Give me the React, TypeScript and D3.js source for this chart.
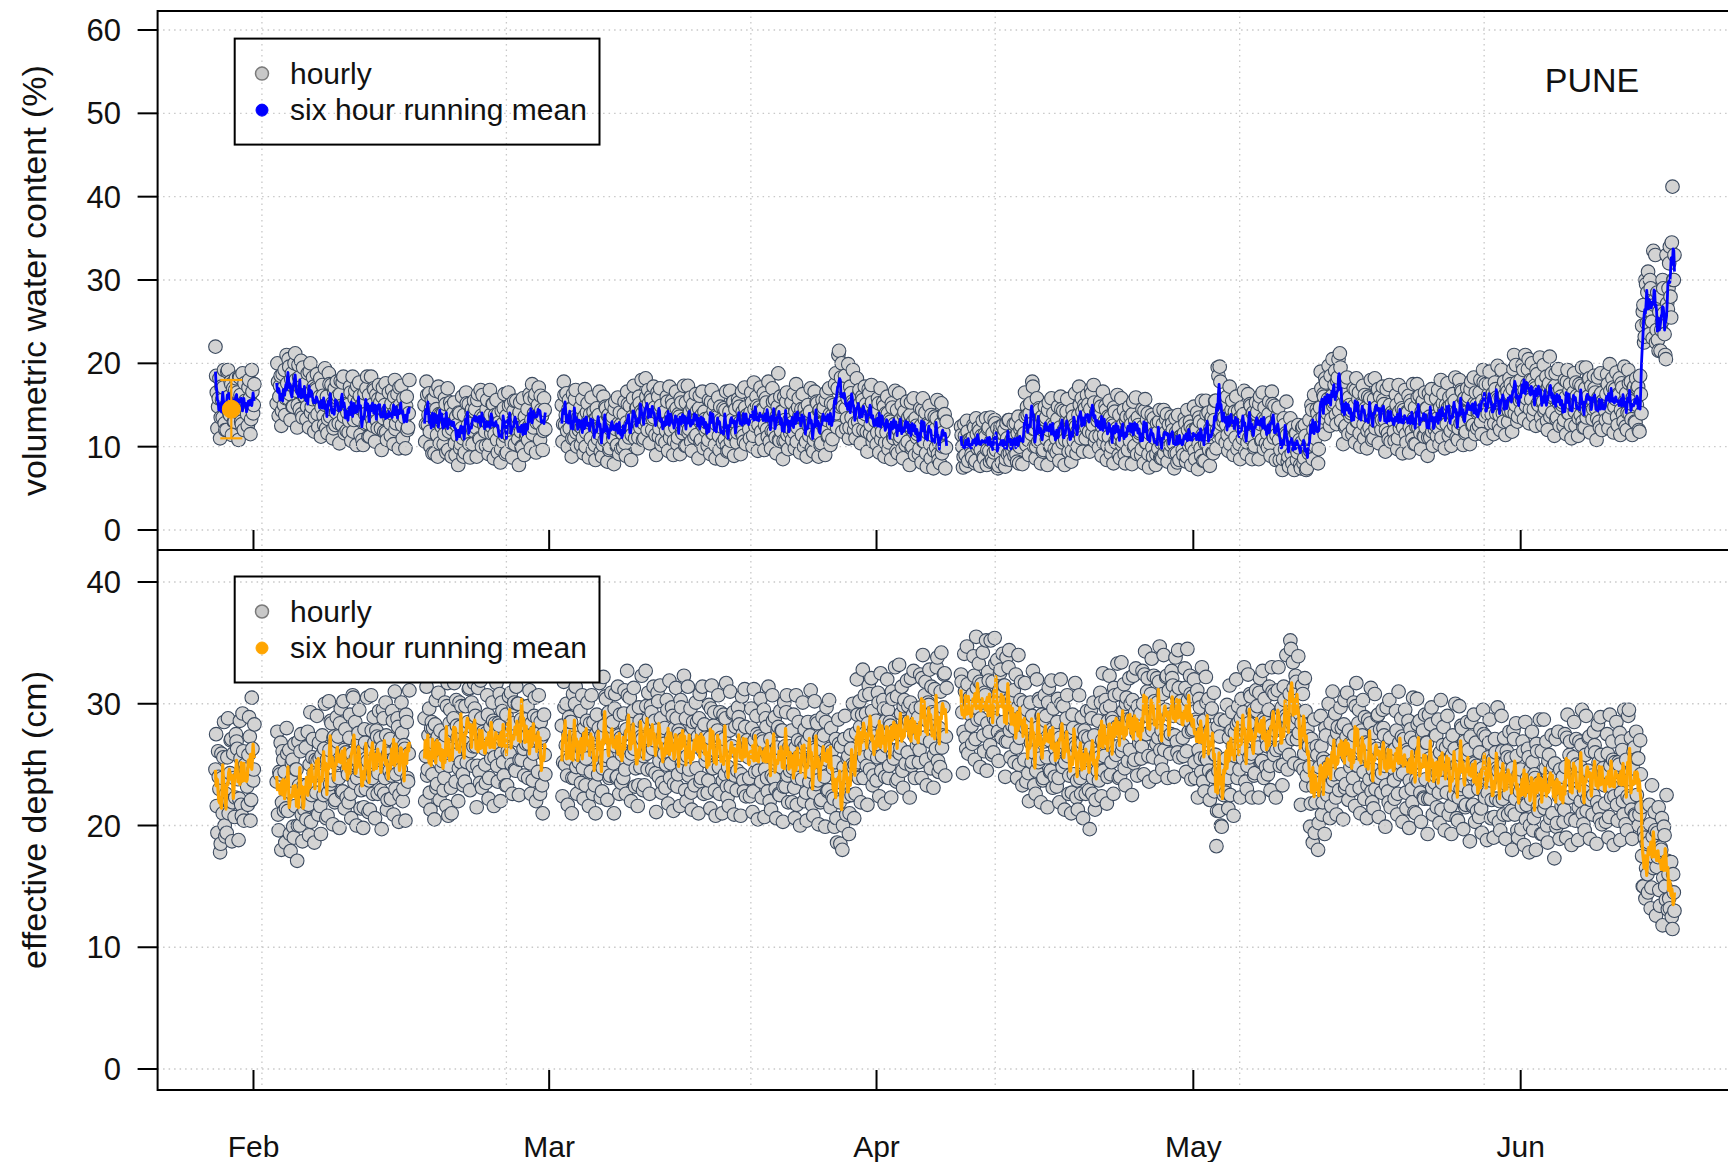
import React from "react";
import * as d3 from "d3";

// ---------- axis / label data ----------
const MONTH_LABELS = ["Feb", "Mar", "Apr", "May", "Jun"];
const MONTH_TICKS = [
  Date.UTC(2017, 1, 1),
  Date.UTC(2017, 2, 1),
  Date.UTC(2017, 3, 1),
  Date.UTC(2017, 4, 1),
  Date.UTC(2017, 5, 1),
];
const VWC_TICKS = [0, 10, 20, 30, 40, 50, 60];
const ED_TICKS = [0, 10, 20, 30, 40];
// vertical dotted grid (every 2,000,000 s), days after 1 Feb
const GRID_DAYS = [0.8, 23.95, 47.1, 70.24, 93.39, 116.54];

// ---------- series data ----------
// start of each continuous record segment, days after 1 Feb
const SEG_START_DAYS = [-3.6, 2.2, 16.2, 29.2, 67.0];
// each segment is read as two interleaved samplings: set 1 every 3 h from the start,
// set 2 every 3 h starting 1.5 h later
const STEP_HOURS = 3;
const SET2_OFFSET_HOURS = 1.5;

// volumetric water content (%), values in tenths — set 1
const vwcA = `220 165 148 182 135 156 171 128 149 190 160 138 175 152 130 168 157 141 184 162 127 150 176 145 139 171 158 133 166 150`;
const vwcB = `152 178 160 185 143 170
192 158 176 205 163 181 148 172 212 167 150 183 171 139 195 160
176 148 163 190 141 157 172 135 168 139 155 182 147 161 126 150
160 133 175 145 152 122 170 141 158 128 163 149 177 136 150 119
150 131 165 140 118 158 145 173 133 161 145 108 154 139 170 128
162 137 150 125 168 143 131 157 146 122 160 134 150 117 142 165
128 152 139 160 121 147 136 171 143 126 158 135 149 120 140`;
const vwcC = `150 127 162 138 118 146
92 158 131 145 88 139 165 124 140 115 151 132 96 127 148 121
129 104 136 113 141 98 122 110 138 117 152 126 103 133 145 119
142 123 156 131 109 137 162 128 118 145 129 102 138 124 151 115
133 108 140 119 97 127 146 113 137 116 149 124 105 131 155 121
128 109 141 118 99 125 136 112 145 124 158 132 115 140 163 129
150 128 161 137 119 144`;
const vwcD = `150 127 162 138 119 145
122 145 110 135 157 117 132 120 147 123 111 136 100 141 131 129
110 130 142 102 134 121 138 115 123 102 129 148 110 137 96 121
133 110 145 121 102 128 141 98 116 139 104 129 151 111 126 114
158 134 122 147 111 152 142 140 128 148 160 120 152 139 156 133
135 114 141 160 122 149 108 133 142 119 154 130 111 137 150 107
123 146 111 136 158 118 133 121 153 129 117 142 106 147 137 135
114 134 146 106 138 125 142 119 129 108 135 154 116 143 102 127
136 113 148 124 105 131 144 101 119 142 107 132 154 114 129 117
153 129 117 142 106 147 137 135 121 141 153 113 145 132 149 126
139 118 145 164 126 153 112 137 142 119 154 130 111 137 188 107
119 142 107 132 154 114 129 117 153 129 117 142 106 147 137 135
114 134 146 106 138 125 142 119 129 108 135 154 116 143 102 127
144 121 156 132 113 139 152 109 150 175 140 170 215 152 200 148
170 146 134 199 123 164 154 152 128 148 160 120 152 139 156 133
139 118 145 164 126 153 112 137 140 117 152 128 109 135 148 105
117 140 105 130 152 112 127 115 144 120 108 133 97 138 128 126
106 126 138 98 130 117 134 111 119 98 125 144 106 133 92 117
126 103 138 114 95 121 134 91 104 127 92 117 139 99`;
const vwcE = `124 100 88 113 77 118 108 106 91 111 123 83 115 102 119 96
109 88 115 134 96 123 82 107 116 93 128 104 74 111 124 81
97 120 85 110 132 92 107 95 127 103 91 116 80 121 111 109
116 136 148 108 140 127 178 121 121 100 127 146 108 135 94 119
132 109 144 120 101 127 140 97 110 133 98 123 145 105 120 108
142 118 106 131 95 136 126 124 118 138 150 110 142 129 146 123
139 118 145 164 126 153 112 137 136 113 148 124 105 131 144 101
112 135 100 125 147 107 122 110 138 114 102 127 91 132 122 120
107 127 139 99 131 118 135 112 118 97 124 143 105 132 91 116
122 99 134 110 91 117 130 87 104 127 92 117 139 99 114 102
128 104 92 117 81 122 112 110 96 116 128 88 120 107 124 101
116 95 122 141 103 130 89 114 127 104 139 115 96 122 135 92
132 155 120 185 196 127 142 130 150 126 114 139 103 144 134 132
111 131 143 103 135 122 139 116 126 105 132 151 113 140 99 124
139 116 151 127 108 134 147 104 116 139 104 129 151 111 126 114
132 108 96 121 85 126 116 114 88 108 120 80 112 99 116 93
99 78 105 124 86 113 74 97 132 109 144 120 101 127 140 97
147 170 135 160 182 142 157 145 185 161 149 174 138 179 205 212
131 151 163 123 155 142 159 136 143 122 149 168 130 157 116 141
150 127 162 138 119 145 158 115 134 157 122 147 169 129 144 132
156 132 120 145 109 150 140 138 118 138 150 110 142 129 146 123
136 115 142 161 123 150 109 134 147 124 159 135 116 142 155 112
123 146 111 136 158 118 133 121 158 134 122 147 111 152 142 140
127 147 159 119 151 138 155 132 143 122 149 168 130 157 116 141
157 134 169 145 126 152 165 122 142 165 130 155 177 137 152 140
175 151 139 164 128 169 159 157 138 158 170 130 162 149 166 143
163 142 169 210 150 177 136 161 180 157 192 168 149 175 205 145
157 180 145 170 192 152 167 155 178 154 142 167 131 172 208 160
141 161 173 133 165 152 169 146 153 132 159 178 140 167 126 151
165 142 177 153 134 160 173 130 147 170 135 160 182 142 157 145
170 146 134 159 123 164 154 152 143 163 175 135 167 154 171 148
157 136 163 182 144 171 130 155 164 141 176 152 133 159 172 129
150 172 118 163 245 270 232 295 285 248 300 262 230 275 330 240
228 262 215 250 290 235 205 272 290 340 255 412 300`;

// volumetric water content (%), values in tenths — set 2
const vwcA2 = `185 122 158 110 172 135 192 120 120 192 140 178 114 170 130 182 165 108 183 130 188 120 155 145 125 180 115 192 140 175`;
const vwcB2 = `200 137 173 125 187 150
138 210 158 196 132 188 148 200 180 123 198 145 203 135 170 160
133 188 123 200 148 183 118 170 187 124 160 112 174 137 194 122
116 188 136 174 110 166 126 178 161 104 179 126 184 116 151 141
117 172 107 184 132 167 102 154 177 114 150 102 164 127 184 112
112 184 132 170 106 162 122 174 153 96 171 118 176 108 143 133
113 168 103 180 128 163 98 150 173 110 146 98 160 123 180`;
const vwcC2 = `106 178 126 164 100 156
149 92 167 114 172 104 139 129 103 158 93 170 118 153 88 140
153 90 126 78 140 103 160 88 93 165 113 151 87 143 103 155
145 88 163 110 168 100 135 125 101 156 91 168 116 151 86 138
156 93 129 81 143 106 163 91 93 165 113 151 87 143 103 155
135 78 153 100 158 90 125 115 108 163 98 175 123 158 93 145
171 108 144 96 158 121`;
const vwcD2 = `106 178 126 164 100 156
145 88 163 110 168 100 135 125 102 157 92 169 117 152 87 139
159 96 132 84 146 109 166 94 88 160 108 146 82 138 98 150
136 79 154 101 159 91 126 116 99 154 89 166 114 149 84 136
173 110 146 98 160 123 180 108 110 182 130 168 104 160 120 172
147 90 165 112 170 102 137 127 105 160 95 172 120 155 90 142
166 103 139 91 153 116 173 101 101 173 121 159 95 151 111 163
143 86 161 108 166 98 133 123 101 156 91 168 116 151 86 138
159 96 132 84 146 109 166 94 95 167 115 153 89 145 105 157
148 91 166 113 171 103 138 128 110 165 100 177 125 160 95 147
171 108 144 96 158 121 178 106 98 170 118 156 92 148 108 160
142 85 160 107 165 97 132 122 108 163 98 175 123 158 93 145
163 100 136 88 150 113 170 98 94 166 114 152 88 144 104 156
147 90 165 112 170 102 137 127 133 188 123 210 148 183 118 170
185 122 158 110 172 135 192 120 110 182 130 168 104 160 120 172
151 94 169 116 174 106 141 131 103 158 93 170 118 153 88 140
160 97 133 85 147 110 167 95 92 164 112 150 86 142 102 154
135 78 153 100 158 90 125 115 91 146 81 158 106 141 76 128
149 86 122 74 136 99 156 84 80 152 100 138 74 130`;
const vwcE2 = `114 75 127 90 131 83 108 100 87 126 80 134 98 123 77 113
131 86 112 78 121 95 135 85 82 132 96 122 77 117 89 125
115 76 128 91 132 84 109 101 89 128 82 136 100 125 79 115
165 102 138 90 152 115 172 100 86 158 106 144 80 136 96 148
135 78 153 100 158 90 125 115 93 148 83 160 108 143 78 130
157 94 130 82 144 107 164 92 100 172 120 158 94 150 110 162
151 94 169 116 174 106 141 131 99 154 89 166 114 149 84 136
155 92 128 80 142 105 162 90 86 158 106 144 80 136 96 148
136 79 154 101 159 91 126 116 90 145 80 157 105 140 75 127
138 88 116 78 128 98 144 86 86 144 102 133 82 126 94 136
120 74 134 92 138 84 112 104 90 134 82 144 102 130 78 120
148 85 121 73 135 98 155 83 83 155 103 141 77 133 93 145
155 98 195 120 178 110 145 135 105 160 95 172 120 155 90 142
160 97 133 85 147 110 167 95 91 163 111 149 85 141 101 153
142 85 160 107 165 97 132 122 99 154 89 166 114 149 84 136
147 84 120 72 134 97 154 82 76 134 92 123 72 116 84 126
108 74 122 80 126 72 100 92 95 150 85 162 110 145 80 132
190 127 163 115 177 140 197 125 133 205 153 191 127 183 143 195
160 103 178 125 183 115 150 140 115 170 105 182 130 165 100 152
173 110 146 98 160 123 180 108 110 182 130 168 104 160 120 172
151 94 169 116 174 106 141 131 107 162 97 174 122 157 92 144
168 105 141 93 155 118 175 103 103 175 123 161 97 153 113 165
146 89 164 111 169 101 136 126 113 168 103 180 128 163 98 150
176 113 149 101 163 126 183 111 108 180 128 166 102 158 118 170
160 103 178 125 183 115 150 140 125 180 115 192 140 175 110 162
190 127 163 115 177 140 197 125 120 192 140 178 114 170 130 182
175 118 193 140 198 130 165 155 143 198 133 210 158 193 128 180
200 137 173 125 187 150 207 135 126 198 146 184 120 176 136 188
170 113 188 135 193 125 160 150 125 180 115 192 140 175 110 162
188 125 161 113 175 138 195 123 123 195 143 181 117 173 133 185
165 108 183 130 188 120 155 145 132 187 122 199 147 182 117 169
189 126 162 114 176 139 196 124 120 192 140 178 114 170 130 182
170 120 185 140 262 225 300 248 310 235 290 250 335 270 225 285
215 280 240 300 260 210 330 265 320 280 345 300 330`;

// effective depth (cm), values in tenths — set 1
const edA = `246 216 261 230 185 239 256 200 226 256 210 243 271 219 239 223 269 238 222 255 208 261 248 246 232 258 273 221 263 246`;
const edB = `236 209 244 268 219 254
244 214 259 228 193 237 254 190 216 246 200 233 261 209 229 213
264 233 217 250 203 256 243 241 227 253 268 216 258 241 263 233
254 227 262 286 237 272 219 251 269 239 284 253 228 262 279 223
242 272 226 259 305 235 255 239 276 245 229 262 215 268 255 253
237 263 278 226 268 251 273 243 256 229 264 288 239 274 221 253
271 241 286 255 230 264 281 225 246 276 230 263 291 239 259`;
const edC = `288 257 241 274 227 280
242 268 283 231 273 256 278 248 266 239 274 298 208 284 231 263
288 258 303 272 247 281 298 242 268 298 252 285 313 261 281 265
296 265 249 282 235 288 275 273 250 276 291 239 281 264 286 256
276 249 284 308 259 294 241 273 291 261 306 275 250 284 301 245
270 300 254 287 325 263 283 267 298 267 251 284 237 290 277 275
244 270 285 233 275 258`;
const edD = `282 252 297 266 241 275
255 285 239 272 300 248 268 252 294 263 247 280 233 286 273 271
244 270 285 233 275 258 280 250 274 247 282 306 257 292 239 271
281 251 296 265 240 274 291 235 262 292 246 279 307 255 275 259
294 263 247 280 233 286 273 271 257 283 298 246 288 271 293 263
270 243 278 302 253 288 235 267 280 250 295 264 239 273 290 234
258 288 242 275 303 251 271 255 288 257 241 274 227 280 267 265
247 273 288 236 278 261 283 253 264 237 272 296 247 282 229 261
278 248 293 262 237 271 288 232 248 278 232 265 293 241 261 245
289 258 242 275 228 281 268 266 239 265 280 228 270 253 275 245
263 236 271 295 246 281 228 260 271 241 286 255 230 264 281 225
248 278 232 265 293 241 261 245 278 247 231 264 217 270 257 255
238 264 279 227 269 252 274 244 254 227 262 286 237 272 219 251
270 240 285 254 229 263 280 224 222 252 206 239 267 185 235 200
271 240 224 257 210 263 250 248 250 276 291 239 281 264 328 256
276 249 284 308 259 294 241 273 286 256 301 270 245 279 296 240
265 295 249 282 310 258 278 262 306 275 259 292 245 298 285 283
260 286 301 249 291 274 296 266 289 262 297 321 272 307 254 286
299 269 314 283 258 292 330 253 280 310 264 297 325 273`;
const edE = `324 293 277 310 263 316 303 301 282 308 323 271 313 296 318 288
301 274 309 352 284 319 266 298 318 288 333 302 277 311 328 272
285 315 269 302 330 278 298 282 311 280 264 297 250 303 290 288
254 280 295 243 285 268 290 260 272 245 280 304 255 290 237 269
286 256 301 270 245 279 296 240 255 285 239 272 300 248 268 252
288 257 241 274 227 280 267 265 237 263 278 226 268 251 273 243
256 229 264 288 239 274 221 253 286 256 301 270 245 279 296 240
268 298 252 285 313 261 281 265 308 277 261 294 247 300 287 285
262 288 303 251 293 276 298 268 292 265 300 324 275 310 257 289
308 278 323 292 267 301 318 262 278 308 262 295 323 271 291 275
321 290 274 307 260 313 300 298 272 298 313 261 303 286 308 278
279 252 287 311 262 297 244 276 286 256 301 270 245 279 296 240
228 258 212 245 273 200 241 225 286 255 239 272 225 278 265 263
257 283 298 246 288 271 293 263 276 249 284 308 259 294 241 273
294 264 309 278 253 287 304 248 265 295 249 282 310 258 278 262
311 280 264 297 250 303 290 288 282 308 345 271 313 296 318 288
276 249 284 308 259 294 241 273 248 218 263 232 194 241 258 202
235 265 219 252 280 228 248 232 284 253 237 270 223 276 263 261
242 268 283 231 273 256 278 248 266 239 274 298 249 284 231 263
274 244 289 258 233 267 284 228 246 276 230 263 291 239 259 243
280 249 233 266 219 272 259 257 237 263 278 226 268 251 273 243
254 227 262 286 237 272 219 251 268 238 283 252 227 261 278 222
238 268 222 255 283 231 251 235 274 243 227 260 213 266 253 251
227 253 268 216 258 241 263 233 250 223 258 282 233 268 215 247
258 228 273 242 217 251 268 212 230 260 214 247 275 223 243 227
268 237 221 254 207 260 247 245 220 246 261 209 251 234 256 226
239 212 247 271 222 257 190 236 246 216 261 230 205 239 256 200
222 252 206 239 267 215 235 219 261 230 214 247 200 253 240 238
210 236 251 199 241 224 246 216 240 213 248 272 223 258 205 237
256 226 271 240 215 249 266 210 228 258 212 245 273 221 241 225
266 235 219 252 205 258 245 243 218 244 259 207 249 232 254 224
244 217 252 276 227 262 209 241 254 224 295 238 213 247 264 208
225 255 209 242 175 150 190 165 160 186 201 149 191 174 196 166
174 147 182 206 157 192 139 171 160 132 170 115 145`;

// effective depth (cm), values in tenths — set 2
const edA2 = `275 194 240 178 259 210 285 191 194 288 220 270 187 259 207 275 263 188 286 217 292 204 250 236 217 289 204 305 237 283`;
const edB2 = `277 196 242 180 261 212
186 280 212 262 179 251 199 267 246 171 269 200 275 187 233 219
205 277 192 293 225 271 186 254 290 209 255 193 274 225 300 206
208 302 234 284 201 273 221 289 273 198 296 227 302 214 260 246
219 291 206 307 239 285 200 268 295 214 260 198 279 230 305 211
213 307 239 289 206 278 226 294 272 197 295 226 301 213 259 245
222 294 209 310 242 288 203 271 301 220 266 204 285 236 311`;
const edC2 = `220 314 246 296 213 285
280 205 303 234 309 221 267 253 229 301 216 317 249 295 210 278
317 236 282 220 301 252 327 233 236 330 262 312 229 301 249 317
290 215 313 244 319 231 277 263 235 307 222 323 255 301 216 284
317 236 282 220 301 252 327 233 233 327 259 309 226 298 246 314
300 225 323 254 329 241 287 273 239 311 226 327 259 305 220 288
307 226 272 210 291 242`;
const edD2 = `224 318 250 300 217 289
285 210 308 239 314 226 272 258 235 307 222 323 255 301 216 284
307 226 272 210 291 242 317 223 228 322 254 304 221 293 241 309
285 210 308 239 314 226 272 258 239 311 226 327 259 305 220 288
313 232 278 216 297 248 323 229 233 327 259 309 226 298 246 314
286 211 309 240 315 227 273 259 231 303 218 319 251 297 212 280
313 232 278 216 297 248 323 229 220 314 246 296 213 285 233 301
285 210 308 239 314 226 272 258 227 299 214 315 247 293 208 276
307 226 272 210 291 242 317 223 216 310 242 292 209 281 229 297
283 208 306 237 312 224 270 256 224 296 211 312 244 290 205 273
304 223 269 207 288 239 314 220 213 307 239 289 206 278 226 294
278 203 301 232 307 219 265 251 219 291 206 307 239 285 200 268
301 220 266 204 285 236 311 217 208 302 234 284 201 273 221 289
274 199 297 228 303 215 261 247 199 271 186 287 219 265 180 248
290 209 255 193 274 225 300 206 226 320 252 302 219 291 239 307
292 217 315 246 321 233 279 265 237 309 224 325 257 303 218 286
320 239 285 223 304 255 330 236 238 332 264 314 231 303 251 319
298 223 321 252 327 239 285 271 252 324 239 340 272 318 233 301
328 247 293 231 312 263 338 244 248 342 274 324 241 313`;
const edE2 = `318 243 341 272 347 259 305 291 267 339 254 355 287 333 248 316
342 261 307 245 326 277 352 258 260 354 286 336 253 325 273 341
315 240 338 269 344 256 302 288 252 324 239 340 272 318 233 301
317 236 282 220 301 252 327 233 226 320 252 302 219 291 239 307
290 215 313 244 319 231 277 263 232 304 219 320 252 298 213 281
307 226 272 210 291 242 317 223 213 307 239 289 206 278 226 294
272 197 295 226 301 213 259 245 237 309 224 325 257 303 218 286
323 242 288 226 307 258 333 239 240 334 266 316 233 305 253 321
300 225 323 254 329 241 287 273 255 327 242 343 275 321 236 304
337 256 302 240 321 272 347 253 246 340 272 322 239 311 259 327
315 240 338 269 344 256 302 288 257 329 244 345 277 323 238 306
320 239 285 223 304 255 330 236 228 322 254 304 221 293 241 309
258 183 281 212 287 199 245 231 227 299 214 315 247 293 208 276
320 239 285 223 304 255 330 236 230 324 256 306 223 295 243 311
298 223 321 252 327 239 285 271 242 314 229 330 262 308 223 291
330 249 295 233 314 265 340 246 258 352 284 334 251 323 271 339
292 217 315 246 321 233 279 265 199 271 186 287 219 265 180 248
290 209 255 193 274 225 300 206 216 310 242 292 209 281 229 297
280 205 303 234 309 221 267 253 229 301 216 317 249 295 210 278
303 222 268 206 287 238 313 219 214 308 240 290 207 279 227 295
274 199 297 228 303 215 261 247 222 294 209 310 242 288 203 271
295 214 260 198 279 230 305 211 210 304 236 286 203 275 223 291
268 193 291 222 297 209 255 241 215 287 202 303 235 281 196 264
290 209 255 193 274 225 300 206 204 298 230 280 197 269 217 285
262 187 285 216 291 203 249 235 207 279 194 295 227 273 188 256
287 206 252 190 271 222 297 203 196 290 222 272 189 261 209 277
255 180 278 209 284 196 242 228 197 269 184 285 217 263 178 246
277 196 242 180 261 212 287 193 193 287 219 269 186 258 206 274
248 173 271 202 277 189 235 221 203 275 190 291 223 269 184 252
285 204 250 188 269 220 295 201 196 290 222 272 189 261 209 277
260 185 283 214 289 201 247 233 203 275 190 291 223 269 184 252
285 204 250 188 269 220 295 201 196 290 222 272 189 261 209 277
255 200 270 215 150 195 140 185 145 217 132 233 165 211 126 194
215 134 180 118 199 150 225 131 140 170 125 160 130`;

const VWC_SET1 = [vwcA, vwcB, vwcC, vwcD, vwcE];
const VWC_SET2 = [vwcA2, vwcB2, vwcC2, vwcD2, vwcE2];
const ED_SET1 = [edA, edB, edC, edD, edE];
const ED_SET2 = [edA2, edB2, edC2, edD2, edE2];

// calibration point with uncertainty (top panel)
const CAL_DAY = -2.1;
const CAL_MEAN = 14.5;
const CAL_LOW = 11.0;
const CAL_HIGH = 18.0;

// ---------- helpers ----------
const DAY_MS = 86400000;
const HOUR_MS = 3600000;
const FEB1 = Date.UTC(2017, 1, 1);
const MEAN_HALF_WINDOW_H = 3; // six-hour centred window

type Pt = { t: number; v: number };

function parseSet(s: string, k: number, offsetH: number): Pt[] {
  return s
    .trim()
    .split(/\s+/)
    .map((tok, i) => ({
      t: FEB1 + SEG_START_DAYS[k] * DAY_MS + (i * STEP_HOURS + offsetH) * HOUR_MS,
      v: Number(tok) / 10,
    }));
}

function buildSegments(set1: string[], set2: string[]): Pt[][] {
  return set1.map((s, k) => {
    const merged = parseSet(s, k, 0).concat(parseSet(set2[k], k, SET2_OFFSET_HOURS));
    return merged.sort((a, b) => a.t - b.t);
  });
}

// centred running mean
function runningMean(seg: Pt[]): Pt[] {
  return seg.map((p) => {
    const win = seg.filter((q) => Math.abs(q.t - p.t) <= MEAN_HALF_WINDOW_H * HOUR_MS + 1);
    return { t: p.t, v: d3.mean(win, (d) => d.v) as number };
  });
}

const FONT = "'Liberation Sans', Arial, Helvetica, sans-serif";
const PT_FILL = "#d3d3d3";
const PT_STROKE = "#3b4a5f";
const GRID = "#c8c8c8";

export default function App() {
  const W = 1728;
  const H = 1162;
  const left = 157.6;
  const top = 11;
  const sep = 550;
  const bottom = 1090;

  const x = d3
    .scaleUtc()
    .domain([new Date(FEB1 - 9.08 * DAY_MS), new Date(FEB1 + 140 * DAY_MS)])
    .range([left, left + 149.08 * 10.56]);
  const yTop = d3.scaleLinear().domain([0, 60]).range([530, 30]);
  const yBot = d3.scaleLinear().domain([0, 40]).range([1069, 582]);

  const vwc = buildSegments(VWC_SET1, VWC_SET2);
  const ed = buildSegments(ED_SET1, ED_SET2);
  const vwcMean = vwc.map(runningMean);
  const edMean = ed.map(runningMean);

  const xt = (t: number) => x(new Date(t));

  const lineTop = d3
    .line<Pt>()
    .x((d) => xt(d.t))
    .y((d) => yTop(d.v));
  const lineBot = d3
    .line<Pt>()
    .x((d) => xt(d.t))
    .y((d) => yBot(d.v));

  const gridX = GRID_DAYS.map((d) => xt(FEB1 + d * DAY_MS));

  const axes = (yS: d3.ScaleLinear<number, number>, ticks: number[], y1: number, showMonths: boolean) => (
    <g>
      {ticks.map((t) => (
        <g key={"yt" + t}>
          <line x1={left - 20} x2={left} y1={yS(t)} y2={yS(t)} stroke="#000" strokeWidth={2} />
          <text x={121} y={yS(t) + 11} textAnchor="end" fontSize={31} fontFamily={FONT} fill="#111">
            {t}
          </text>
        </g>
      ))}
      {MONTH_TICKS.map((m, i) => (
        <g key={"mt" + i}>
          <line x1={xt(m)} x2={xt(m)} y1={y1} y2={y1 - 20} stroke="#000" strokeWidth={2} />
          {showMonths && (
            <text x={xt(m)} y={1157} textAnchor="middle" fontSize={30} fontFamily={FONT} fill="#111">
              {MONTH_LABELS[i]}
            </text>
          )}
        </g>
      ))}
    </g>
  );

  const grid = (yS: d3.ScaleLinear<number, number>, ticks: number[], y0: number, y1: number) => (
    <g stroke={GRID} strokeWidth={1.3} strokeDasharray="1.5,4">
      {ticks.map((t) => (
        <line key={"gh" + t} x1={left} x2={W} y1={yS(t)} y2={yS(t)} />
      ))}
      {gridX.map((gx, i) => (
        <line key={"gv" + i} x1={gx} x2={gx} y1={y0} y2={y1} />
      ))}
    </g>
  );

  const legend = (y0: number, color: string) => (
    <g>
      <rect x={234.7} y={y0} width={364.8} height={106} fill="none" stroke="#000" strokeWidth={2} />
      <circle cx={262} cy={y0 + 35} r={6.5} fill="#c8c8c8" stroke="#7a7a7a" strokeWidth={1.5} />
      <text x={290} y={y0 + 45} fontSize={30} fontFamily={FONT} fill="#111">
        hourly
      </text>
      <circle cx={262} cy={y0 + 71.5} r={6} fill={color} stroke={color} strokeWidth={1} />
      <text x={290} y={y0 + 81.5} fontSize={30} fontFamily={FONT} fill="#111">
        six hour running mean
      </text>
    </g>
  );

  const calX = xt(FEB1 + CAL_DAY * DAY_MS);

  return (
    <svg
      width={W}
      height={H}
      style={{ position: "absolute", left: 0, top: 0, background: "#fff" }}
      xmlns="http://www.w3.org/2000/svg"
    >
      <rect x={0} y={0} width={W} height={H} fill="#fff" />

      {/* top panel points and mean */}
      <g>
        {vwc.flat().map((p, i) => (
          <circle key={"vp" + i} cx={xt(p.t)} cy={yTop(p.v)} r={6.8} fill={PT_FILL} stroke={PT_STROKE} strokeWidth={1.1} />
        ))}
        {vwcMean.map((seg, k) => (
          <path key={"vm" + k} d={lineTop(seg) || ""} fill="none" stroke="#0000ff" strokeWidth={2.8} strokeLinejoin="round" />
        ))}
        <g stroke="#ffa500" strokeWidth={2.2}>
          <line x1={calX} x2={calX} y1={yTop(CAL_LOW)} y2={yTop(CAL_HIGH)} />
          <line x1={calX - 11} x2={calX + 11} y1={yTop(CAL_LOW)} y2={yTop(CAL_LOW)} />
          <line x1={calX - 11} x2={calX + 11} y1={yTop(CAL_HIGH)} y2={yTop(CAL_HIGH)} />
        </g>
        <circle cx={calX} cy={yTop(CAL_MEAN)} r={9} fill="#ffa500" stroke="#ffa500" />
      </g>

      {/* bottom panel points and mean */}
      <g>
        {ed.flat().map((p, i) => (
          <circle key={"ep" + i} cx={xt(p.t)} cy={yBot(p.v)} r={6.8} fill={PT_FILL} stroke={PT_STROKE} strokeWidth={1.1} />
        ))}
        {edMean.map((seg, k) => (
          <path key={"em" + k} d={lineBot(seg) || ""} fill="none" stroke="#ffa500" strokeWidth={3.2} strokeLinejoin="round" />
        ))}
      </g>

      {/* legend backgrounds */}
      <rect x={234.7} y={38.6} width={364.8} height={106} fill="#fff" />
      <rect x={234.7} y={576.5} width={364.8} height={106} fill="#fff" />

      {grid(yTop, VWC_TICKS, top, sep)}
      {grid(yBot, ED_TICKS, sep, bottom)}

      {legend(38.6, "#0000ff")}
      {legend(576.5, "#ffa500")}

      {/* frames */}
      <rect x={left} y={top} width={W + 20 - left} height={bottom - top} fill="none" stroke="#000" strokeWidth={2} />
      <line x1={left} x2={W + 20} y1={sep} y2={sep} stroke="#000" strokeWidth={2} />

      {axes(yTop, VWC_TICKS, sep, false)}
      {axes(yBot, ED_TICKS, bottom, true)}

      <text x={1592} y={91.5} textAnchor="middle" fontSize={34} fontFamily={FONT} fill="#111">
        PUNE
      </text>

      <text
        transform={`translate(46, ${(top + sep) / 2}) rotate(-90)`}
        textAnchor="middle"
        fontSize={34}
        fontFamily={FONT}
        fill="#111"
      >
        volumetric water content (%)
      </text>
      <text
        transform={`translate(46, ${(sep + bottom) / 2}) rotate(-90)`}
        textAnchor="middle"
        fontSize={34}
        fontFamily={FONT}
        fill="#111"
      >
        effective depth (cm)
      </text>
    </svg>
  );
}
